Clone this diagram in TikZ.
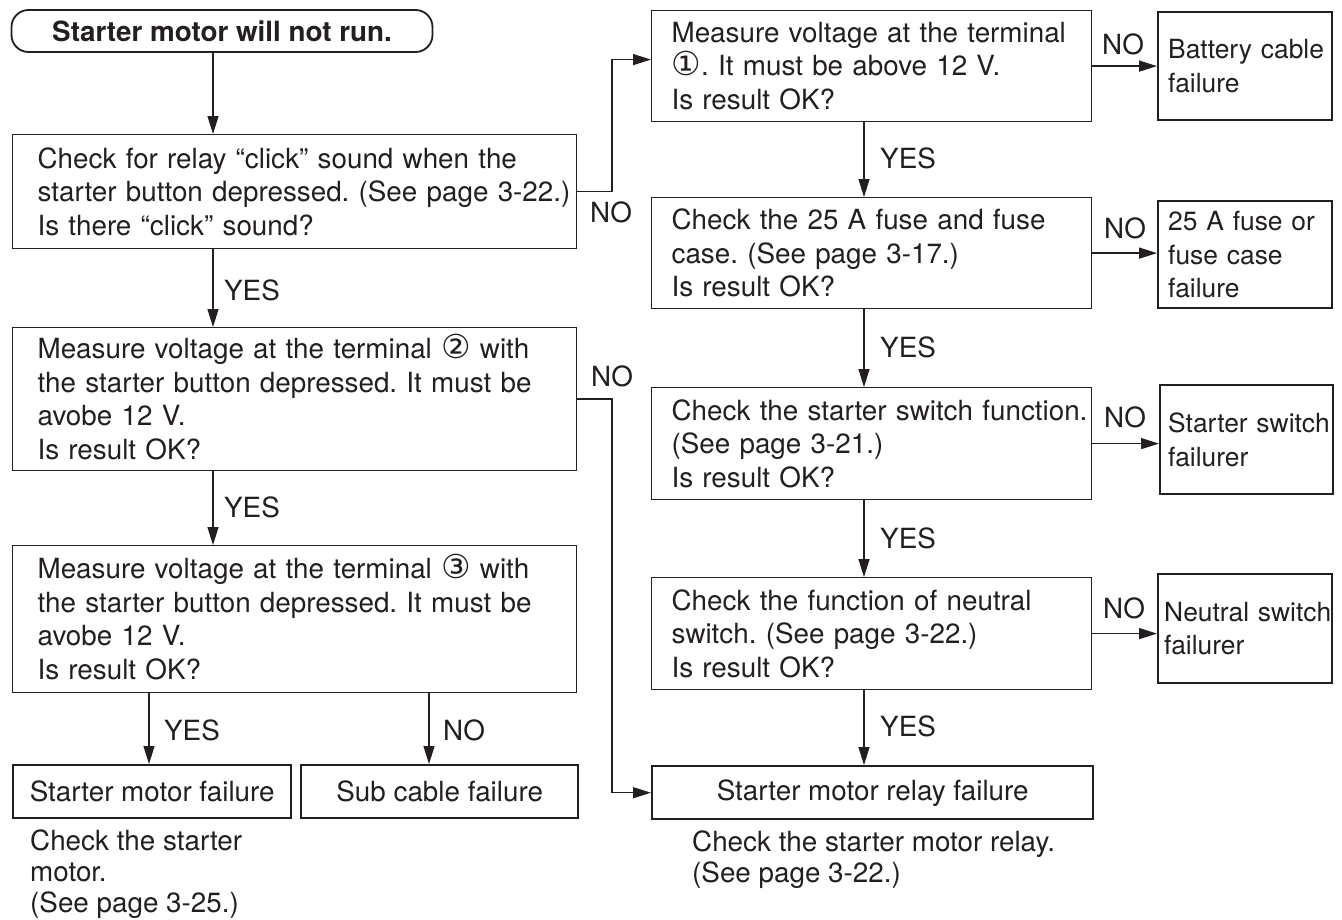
\documentclass[tikz,border=0pt]{standalone}
\usepackage{fontspec}
\setmainfont{TeX Gyre Heros}
\newfontfamily\circfont{DejaVu Sans}
\usetikzlibrary{arrows.meta,calc}
\hfuzz=40pt
\frenchspacing
\definecolor{inkc}{RGB}{35,31,32}
% circled terminal numbers
\newcommand{\cnum}[1]{\smash{\circfont\fontsize{33}{33}\selectfont #1}}
% left indent of the text inside a box
\newcommand{\pad}[1]{\leftskip=#1pt\relax\hyphenpenalty=10000\relax}

\begin{document}
\begin{tikzpicture}[x=1pt,y=-1pt,
  txt/.style={font=\fontsize{27.8}{33.5}\selectfont, text=inkc},
  qbox/.style={txt, draw=inkc, line width=1.2pt, anchor=north west,
               inner xsep=0pt, inner ysep=0pt, align=left},
  rbox/.style={txt, draw=inkc, line width=2.4pt, anchor=north west,
               inner xsep=0pt, inner ysep=0pt, align=left},
  cbox/.style={txt, draw=inkc, line width=2.4pt, anchor=north west,
               inner sep=0pt, align=center},
  smallres/.style={font=\fontsize{26.4}{33.5}\selectfont},
  startbox/.style={draw=inkc, line width=1.8pt, rounded corners=17pt,
               font=\bfseries\fontsize{27.8}{33.5}\selectfont, text=inkc},
  lbl/.style={txt, anchor=west, inner sep=0pt},
  note/.style={font=\fontsize{27.8}{31}\selectfont, text=inkc,
               anchor=north west, inner sep=0pt, align=left},
  arr/.style={draw=inkc, line width=1.3pt, -{Triangle[length=18pt,width=11pt]}}]

\useasboundingbox[fill=white] (0,0) rectangle (1342,919);

% spine positions of the connectors
\coordinate (lx) at (213,0);
\coordinate (rx) at (864,0);
\coordinate (jx) at (612,0);
\coordinate (yx) at (149,0);
\coordinate (nx) at (429,0);

% ---- left column ----
\node[startbox, minimum width=421pt, minimum height=42pt] (start) at (222,31)
  {Starter motor will not run.};

\node[qbox, text width=564pt, minimum height=114pt] (b1) at (12,134)
  {\pad{25}Check for relay “click” sound when the\\starter button depressed. (See page 3-22.)\\Is there “click” sound?\par};

\node[qbox, text width=564pt, minimum height=143pt] (b3) at (12,327)
  {\pad{25}Measure voltage at the terminal \cnum{②} with\\the starter button depressed. It must be\\avobe 12 V.\\Is result OK?\par};

\node[qbox, text width=564pt, minimum height=147pt] (b6) at (12,545)
  {\pad{25}Measure voltage at the terminal \cnum{③} with\\the starter button depressed. It must be\\avobe 12 V.\\Is result OK?\par};

\node[cbox, minimum width=278pt, minimum height=53pt] (sm) at (12,764)
  {Starter motor failure};
\node[cbox, minimum width=277pt, minimum height=53pt] (sub) at (300,764)
  {Sub cable failure};

\node[note] (smn) at (30,830) {Check the starter\\motor.\\(See page 3-25.)};

% ---- right column ----
\node[qbox, text width=440pt, minimum height=111pt] (b2) at (651,10)
  {\pad{20}Measure voltage at the terminal\\\cnum{①}. It must be above 12 V.\\Is result OK?\par};
\node[rbox, smallres, text width=174pt, minimum height=108pt] (bat) at (1157,11)
  {\pad{10}Battery cable\\failure\par};

\node[qbox, text width=440pt, minimum height=111pt] (b4) at (651,197)
  {\pad{20}Check the 25 A fuse and fuse\\case. (See page 3-17.)\\Is result OK?\par};
\node[rbox, smallres, text width=174pt, minimum height=107pt] (fuse) at (1157,200)
  {\pad{10}25 A fuse or\\fuse case\\failure\par};

\node[qbox, text width=440pt, minimum height=112pt] (b5) at (651,387)
  {\pad{20}Check the starter switch function.\\(See page 3-21.)\\Is result OK?\par};
\node[rbox, smallres, text width=173pt, minimum height=109pt] (sw) at (1159,384)
  {\pad{8}Starter switch\\failurer\par};

\node[qbox, text width=440pt, minimum height=112pt] (b7) at (651,577)
  {\pad{20}Check the function of neutral\\switch. (See page 3-22.)\\Is result OK?\par};
\node[rbox, smallres, text width=174pt, minimum height=109pt] (neu) at (1157,573)
  {\pad{6}Neutral switch\\failurer\par};

\node[cbox, minimum width=441pt, minimum height=53pt] (relay) at (651,765)
  {Starter motor relay failure};
\node[note] (rln) at (692,831) {Check the starter motor relay.\\(See page 3-22.)};

% ---- branch labels ----
\node[lbl] (y1) at (224,290) {YES};
\node[lbl] (y2) at (224,507) {YES};
\node[lbl] (y3) at (164,730) {YES};
\node[lbl] (n3) at (443,730) {NO};
\node[lbl] (n1) at (590,212) {NO};
\node[lbl] (n2) at (591,376) {NO};
\node[lbl] (ya) at (880,158) {YES};
\node[lbl] (yb) at (880,347) {YES};
\node[lbl] (yc) at (880,538) {YES};
\node[lbl] (yd) at (880,726) {YES};
\node[lbl] (nb) at (1102,44) {NO};
\node[lbl] (nf) at (1104,228) {NO};
\node[lbl] (ns) at (1104,417) {NO};
\node[lbl] (nn) at (1103,608) {NO};

% ---- connectors ----
\coordinate (b2in) at ($(b2.west)+(0,-6.5)$);

\draw[arr] (start.south -| lx) -- (b1.north -| lx);
\draw[arr] (b1.south -| lx) -- (b3.north -| lx);
\draw[arr] (b3.south -| lx) -- (b6.north -| lx);
\draw[arr] (b6.south -| yx) -- (sm.north -| yx);
\draw[arr] (b6.south -| nx) -- (sub.north -| nx);

\draw[arr] (b1.east) -- (b1.east -| jx) -- (jx |- b2in) -- (b2in);
\draw[arr] (b3.east) -- (b3.east -| jx) -- (jx |- relay.west) -- (relay.west);

\draw[arr] (b2.south -| rx) -- (b4.north -| rx);
\draw[arr] (b4.south -| rx) -- (b5.north -| rx);
\draw[arr] (b5.south -| rx) -- (b7.north -| rx);
\draw[arr] (b7.south -| rx) -- (relay.north -| rx);

\draw[arr] (b2.east) -- (b2.east -| bat.west);
\draw[arr] (b4.east) -- (b4.east -| fuse.west);
\draw[arr] (b5.east) -- (b5.east -| sw.west);
\draw[arr] (b7.east) -- (b7.east -| neu.west);

\end{tikzpicture}
\end{document}
